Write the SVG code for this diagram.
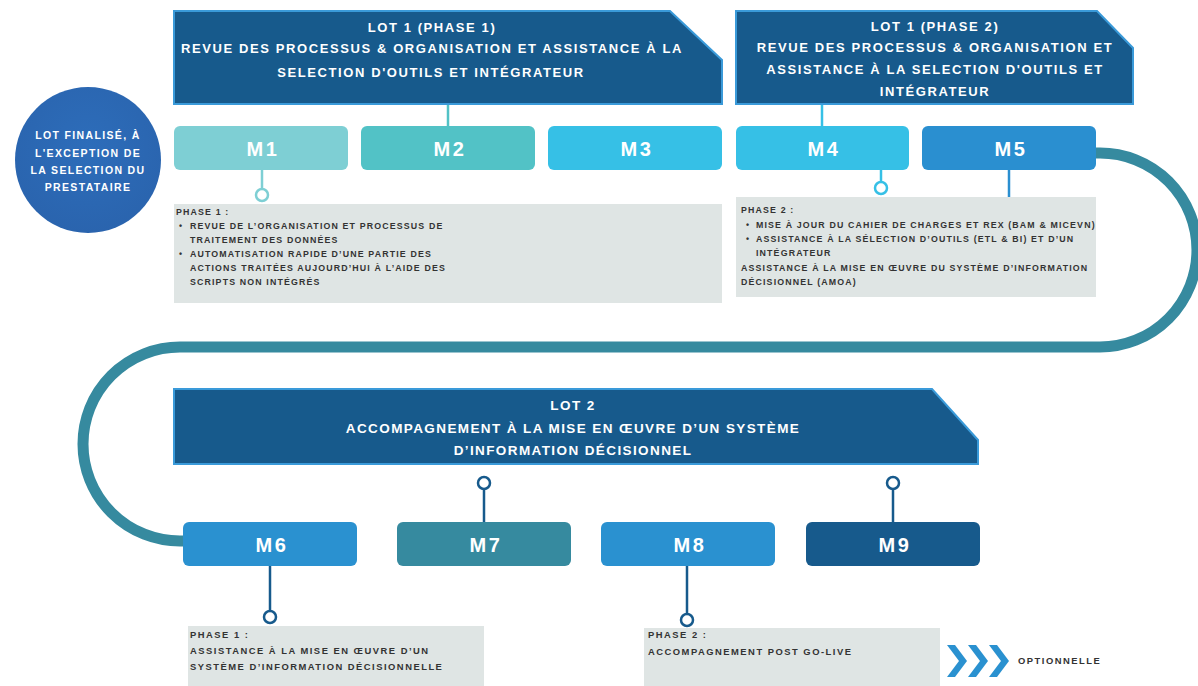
<svg xmlns="http://www.w3.org/2000/svg" width="1198" height="686" viewBox="0 0 1198 686">
<defs>
<style>
.hdr{fill:#175a8c;stroke:#3a9ad9;stroke-width:2}
.ht{font-family:"Liberation Sans",Arial,sans-serif;font-weight:bold;font-size:13px;fill:#fff;text-anchor:middle;letter-spacing:1.6px}
.h2t{font-family:"Liberation Sans",Arial,sans-serif;font-weight:bold;font-size:13.5px;fill:#fff;text-anchor:middle;letter-spacing:1.4px}
.mt{font-family:"Liberation Sans",Arial,sans-serif;font-weight:bold;font-size:20px;fill:#fff;text-anchor:middle;letter-spacing:2.5px}
.desc{fill:#dfe5e4}
.dt{font-family:"Liberation Sans",Arial,sans-serif;font-weight:bold;font-size:8.8px;fill:#333;letter-spacing:1.15px}
.dt2{font-family:"Liberation Sans",Arial,sans-serif;font-weight:bold;font-size:9.4px;fill:#333;letter-spacing:1.5px}
.ct{font-family:"Liberation Sans",Arial,sans-serif;font-weight:bold;font-size:10.5px;fill:#fff;text-anchor:middle;letter-spacing:1.35px}
.pin{fill:#fff;stroke-width:2.5}
.chev{fill:#2a91d0}
</style>
<radialGradient id="cg" cx="0.5" cy="0.4" r="0.6">
<stop offset="0" stop-color="#2d6dba"/>
<stop offset="1" stop-color="#2a64ae"/>
</radialGradient>
</defs>

<g id="connectors" fill="none">
<path d="M1096,153 L1100,153 A97,97 0 0 1 1100,347 L180,347 A97,97 0 0 0 180,541 L186,541" stroke="#368a9f" stroke-width="11"/>
<line x1="448" y1="104" x2="448" y2="126" stroke="#52c2c6" stroke-width="2.5"/>
<line x1="822" y1="104" x2="822" y2="126" stroke="#36c0e6" stroke-width="2.5"/>
<line x1="262" y1="170" x2="262" y2="189" stroke="#7ecfd4" stroke-width="2.5"/>
<line x1="881" y1="170" x2="881" y2="182" stroke="#36c0e6" stroke-width="2.5"/>
<line x1="1009" y1="170" x2="1009" y2="197" stroke="#2a8fd0" stroke-width="2.5"/>
<line x1="484" y1="522" x2="484" y2="489" stroke="#175a8c" stroke-width="2.5"/>
<line x1="893" y1="522" x2="893" y2="489" stroke="#175a8c" stroke-width="2.5"/>
<line x1="270" y1="566" x2="270" y2="611" stroke="#175a8c" stroke-width="2.5"/>
<line x1="687" y1="566" x2="687" y2="614" stroke="#175a8c" stroke-width="2.5"/>
</g>

<g id="circle-note">
<circle cx="88" cy="160" r="73" fill="url(#cg)"/>
<text class="ct" x="88" y="139">LOT FINALISÉ, À</text>
<text class="ct" x="88" y="157">L'EXCEPTION DE</text>
<text class="ct" x="88" y="174">LA SELECTION DU</text>
<text class="ct" x="88" y="191">PRESTATAIRE</text>
</g>

<g id="lot1-phase1">
<path class="hdr" d="M174,11 L670,11 L722,60 L722,104 L174,104 Z"/>
<text class="ht" x="432" y="32">LOT 1 (PHASE 1)</text>
<text class="ht" x="432" y="53">REVUE DES PROCESSUS &amp; ORGANISATION ET ASSISTANCE À LA</text>
<text class="ht" x="431" y="77">SELECTION D'OUTILS ET INTÉGRATEUR</text>
</g>

<g id="lot1-phase2">
<path class="hdr" d="M736,11 L1097,11 L1133,48 L1133,104 L736,104 Z"/>
<text class="ht" x="935" y="31">LOT 1 (PHASE 2)</text>
<text class="ht" x="935" y="52">REVUE DES PROCESSUS &amp; ORGANISATION ET</text>
<text class="ht" x="935" y="74">ASSISTANCE À LA SELECTION D'OUTILS ET</text>
<text class="ht" x="935" y="96">INTÉGRATEUR</text>
</g>

<g id="lot2">
<path class="hdr" d="M174,389 L932,389 L978,440 L978,464 L174,464 Z"/>
<text class="h2t" x="573" y="410">LOT 2</text>
<text class="h2t" x="573" y="433">ACCOMPAGNEMENT À LA MISE EN ŒUVRE D’UN SYSTÈME</text>
<text class="h2t" x="573" y="455">D’INFORMATION DÉCISIONNEL</text>
</g>

<g id="m1"><rect x="174" y="126" width="174" height="44" rx="6" fill="#7ecfd4"/><text class="mt" x="263" y="156">M1</text></g>
<g id="m2"><rect x="361" y="126" width="174" height="44" rx="6" fill="#52c2c6"/><text class="mt" x="450" y="156">M2</text></g>
<g id="m3"><rect x="548" y="126" width="174" height="44" rx="6" fill="#36c0e6"/><text class="mt" x="637" y="156">M3</text></g>
<g id="m4"><rect x="736" y="126" width="173" height="44" rx="6" fill="#36c0e6"/><text class="mt" x="824" y="156">M4</text></g>
<g id="m5"><rect x="922" y="126" width="174" height="44" rx="6" fill="#2a8fd0"/><text class="mt" x="1011" y="156">M5</text></g>

<g id="m6"><rect x="183" y="522" width="174" height="44" rx="6" fill="#2a91d0"/><text class="mt" x="272" y="552">M6</text></g>
<g id="m7"><rect x="397" y="522" width="174" height="44" rx="6" fill="#368a9f"/><text class="mt" x="486" y="552">M7</text></g>
<g id="m8"><rect x="601" y="522" width="174" height="44" rx="6" fill="#2a91d0"/><text class="mt" x="690" y="552" font-weight="normal">M8</text></g>
<g id="m9"><rect x="806" y="522" width="174" height="44" rx="6" fill="#175a8c"/><text class="mt" x="895" y="552">M9</text></g>

<g id="pins">
<circle class="pin" cx="262" cy="195" r="6" stroke="#7ecfd4"/>
<circle class="pin" cx="881" cy="188" r="6" stroke="#36c0e6"/>
<circle class="pin" cx="484" cy="483" r="6" stroke="#175a8c"/>
<circle class="pin" cx="893" cy="483" r="6" stroke="#175a8c"/>
<circle class="pin" cx="270" cy="617" r="6" stroke="#175a8c"/>
<circle class="pin" cx="687" cy="620" r="6" stroke="#175a8c"/>
</g>

<g id="desc-m1">
<rect class="desc" x="174" y="204" width="548" height="99"/>
<text class="dt" x="176" y="215">PHASE 1 :</text>
<text class="dt" x="179" y="229">•</text>
<text class="dt" x="190" y="229">REVUE DE L’ORGANISATION ET PROCESSUS DE</text>
<text class="dt" x="190" y="243">TRAITEMENT DES DONNÉES</text>
<text class="dt" x="179" y="257">•</text>
<text class="dt" x="190" y="257">AUTOMATISATION RAPIDE D’UNE PARTIE DES</text>
<text class="dt" x="190" y="271">ACTIONS TRAITÉES AUJOURD’HUI À L’AIDE DES</text>
<text class="dt" x="190" y="285">SCRIPTS NON INTÉGRÉS</text>
</g>

<g id="desc-m4">
<rect class="desc" x="736" y="197" width="360" height="100"/>
<text class="dt" x="741" y="213">PHASE 2 :</text>
<text class="dt" x="746" y="228">•</text>
<text class="dt" x="756" y="228">MISE À JOUR DU CAHIER DE CHARGES ET REX (BAM &amp; MICEVN)</text>
<text class="dt" x="746" y="242">•</text>
<text class="dt" x="756" y="242">ASSISTANCE À LA SÉLECTION D’OUTILS (ETL &amp; BI) ET D’UN</text>
<text class="dt" x="756" y="256">INTÉGRATEUR</text>
<text class="dt" x="741" y="271">ASSISTANCE À LA MISE EN ŒUVRE DU SYSTÈME D’INFORMATION</text>
<text class="dt" x="741" y="285">DÉCISIONNEL (AMOA)</text>
</g>

<g id="desc-m6">
<rect class="desc" x="188" y="626" width="296" height="60"/>
<text class="dt2" x="190" y="638">PHASE 1 :</text>
<text class="dt2" x="190" y="654">ASSISTANCE À LA MISE EN ŒUVRE D’UN</text>
<text class="dt2" x="190" y="670">SYSTÈME D’INFORMATION DÉCISIONNELLE</text>
</g>

<g id="desc-m8">
<rect class="desc" x="644" y="628" width="296" height="58"/>
<text class="dt2" x="648" y="638">PHASE 2 :</text>
<text class="dt2" x="648" y="655">ACCOMPAGNEMENT POST GO-LIVE</text>
</g>

<g id="legend">
<path class="chev" d="M947,645 L955,645 L967,661 L955,677 L947,677 L959,661 Z"/>
<path class="chev" d="M968,645 L976,645 L988,661 L976,677 L968,677 L980,661 Z"/>
<path class="chev" d="M989,645 L997,645 L1009,661 L997,677 L989,677 L1001,661 Z"/>
<text class="dt2" x="1018" y="664">OPTIONNELLE</text>
</g>
</svg>
